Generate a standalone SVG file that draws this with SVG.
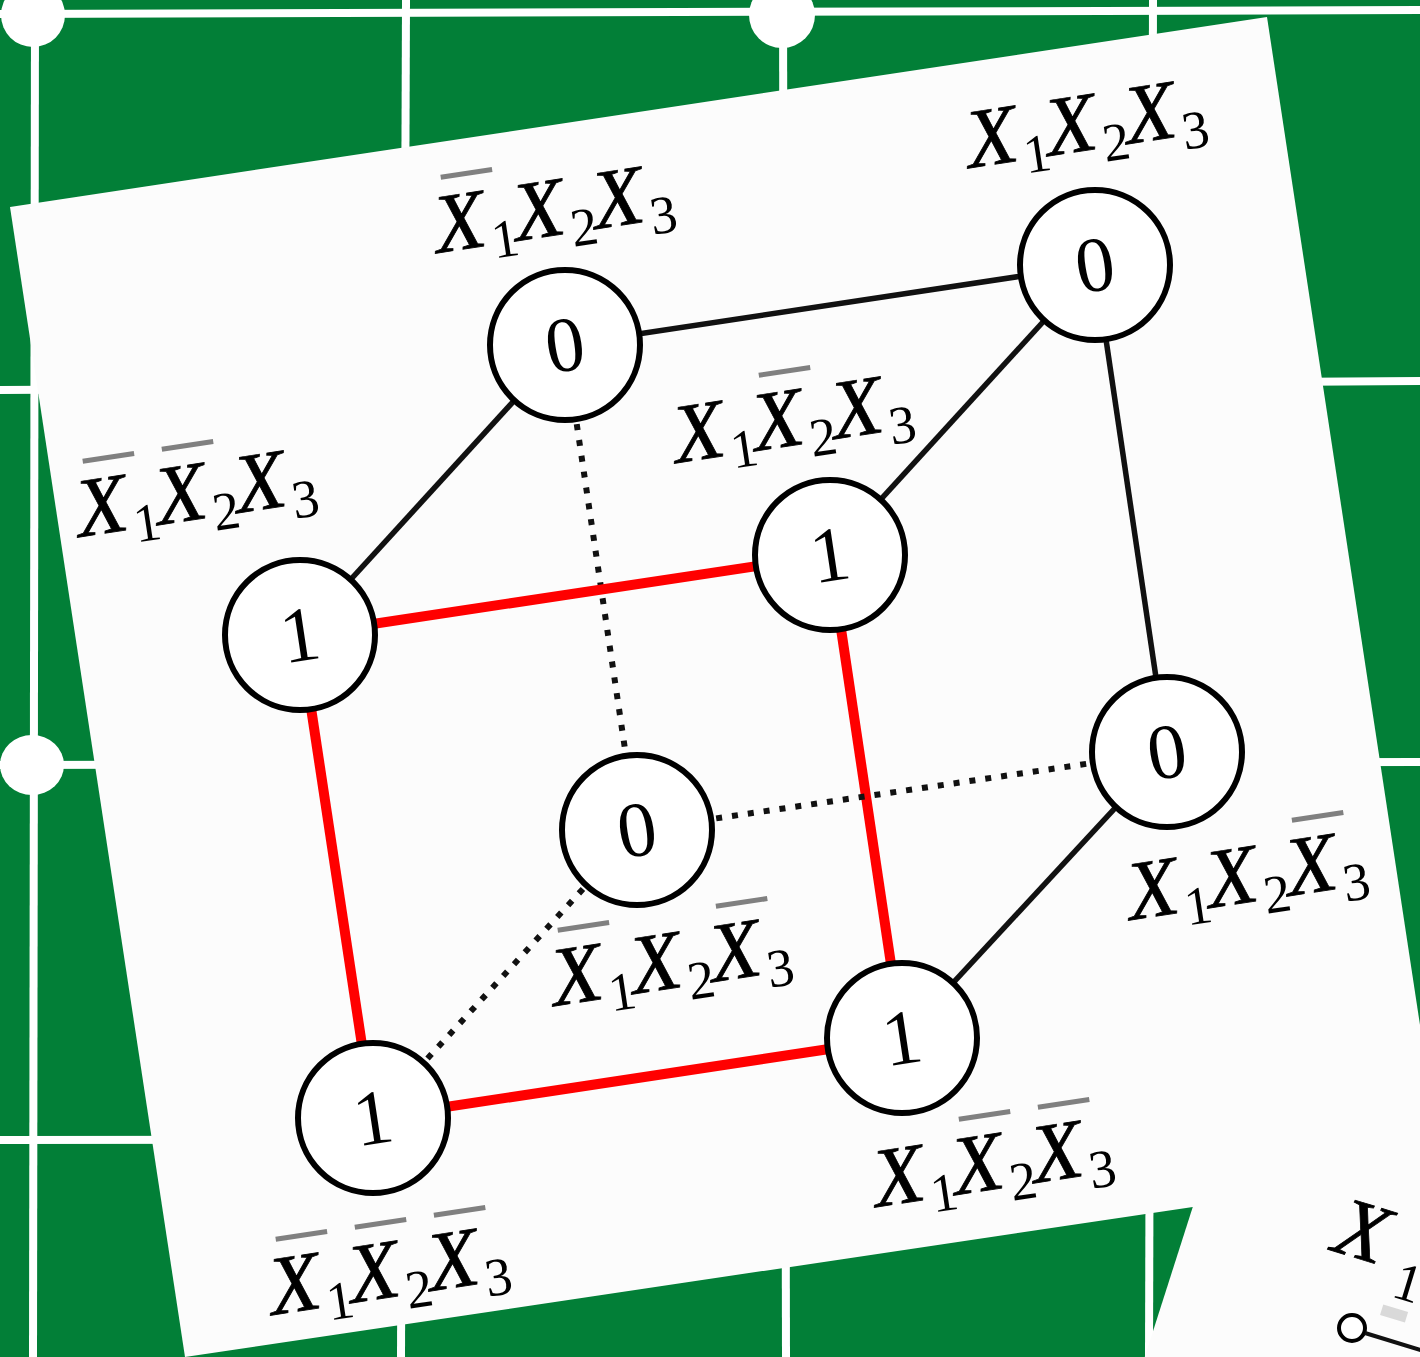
<svg xmlns="http://www.w3.org/2000/svg" width="1420" height="1357" viewBox="0 0 1420 1357">
<defs>
<style>
.grid{stroke:#ffffff;stroke-width:8;fill:none}
.dot{fill:#ffffff}
.paper{fill:#fcfcfc}
.edge{stroke:#111111;stroke-width:5.5;fill:none;stroke-linecap:butt}
.dotted{stroke:#111111;stroke-width:6;fill:none;stroke-dasharray:6 10}
.red{stroke:#ff0000;stroke-width:10;fill:none}
.node{fill:#ffffff;stroke:#000000;stroke-width:6}
.num{font-family:"Liberation Serif",serif;font-size:78px;fill:#000000;text-anchor:middle}
.X{font-family:"Liberation Serif",serif;font-style:italic;font-size:84px;fill:#000000;stroke:#000000;stroke-width:0.8}
.sub{font-family:"Liberation Serif",serif;font-size:54px;fill:#000000}
.bar{fill:#808080}
</style>
</defs>
<rect x="0" y="0" width="1420" height="1357" fill="#027f37"/>
<g id="grid">
<line class="grid" x1="0" y1="14" x2="1420" y2="10"/>
<line class="grid" x1="0" y1="390" x2="1420" y2="381"/>
<line class="grid" x1="0" y1="765" x2="1420" y2="762"/>
<line class="grid" x1="0" y1="1140" x2="1420" y2="1138"/>
<line class="grid" x1="35" y1="0" x2="33" y2="1357"/>
<line class="grid" x1="406" y1="0" x2="401" y2="1357"/>
<line class="grid" x1="783" y1="0" x2="786" y2="1357"/>
<line class="grid" x1="1153" y1="0" x2="1149" y2="1357"/>
<circle class="dot" cx="33" cy="15" r="32"/>
<circle class="dot" cx="782" cy="15" r="33"/>
<ellipse class="dot" cx="32" cy="765" rx="32" ry="30"/>
</g>
<g id="paper2">
<polygon class="paper" points="1227,1100 1440,1100 1440,1400 1131,1400"/>
<g transform="translate(1330,1250) rotate(17)">
<text class="X" x="0" y="0">X</text>
</g>
<g transform="translate(1390,1296) rotate(17)">
<text class="sub" x="0" y="0">1</text>
<rect x="-4" y="10" width="26" height="11" fill="#d9d9d9"/>
</g>
<circle cx="1352" cy="1328" r="13" fill="#ffffff" stroke="#000000" stroke-width="4"/>
<line x1="1365" y1="1333" x2="1440" y2="1356" stroke="#111111" stroke-width="4"/>
</g>
<polygon id="paper" class="paper" points="10,207 1267,17 1442,1170 185,1357"/>
<g id="connectors">
<line class="edge" x1="565" y1="345" x2="1095" y2="265"/>
<line class="edge" x1="565" y1="345" x2="300" y2="635"/>
<line class="edge" x1="1095" y1="265" x2="830" y2="555"/>
<line class="edge" x1="1095" y1="265" x2="1167" y2="752"/>
<line class="edge" x1="1167" y1="752" x2="902" y2="1038"/>
<line class="dotted" x1="565" y1="345" x2="637" y2="830"/>
<line class="red" x1="300" y1="635" x2="830" y2="555"/>
<line class="red" x1="300" y1="635" x2="373" y2="1118"/>
<line class="red" x1="830" y1="555" x2="902" y2="1038"/>
<line class="red" x1="373" y1="1118" x2="902" y2="1038"/>
<line class="dotted" x1="637" y1="830" x2="1167" y2="752"/>
<line class="dotted" x1="637" y1="830" x2="373" y2="1118"/>
</g>
<g id="n1">
<circle class="node" cx="565" cy="345" r="75"/>
<text class="num" transform="translate(565,345) rotate(-8.6)" x="0" y="26">0</text>
<g transform="translate(438,253) rotate(-8.6)">
<rect class="bar" x="14" y="-77" width="52" height="5"/>
<text class="X" x="0" y="0">X</text><text class="sub" x="55" y="14">1</text>
<text class="X" x="80" y="0">X</text><text class="sub" x="135" y="14">2</text>
<text class="X" x="160" y="0">X</text><text class="sub" x="215" y="14">3</text>
</g>
</g>
<g id="n2">
<circle class="node" cx="1095" cy="265" r="75"/>
<text class="num" transform="translate(1095,265) rotate(-8.6)" x="0" y="26">0</text>
<g transform="translate(970,168) rotate(-8.6)">
<text class="X" x="0" y="0">X</text><text class="sub" x="55" y="14">1</text>
<text class="X" x="80" y="0">X</text><text class="sub" x="135" y="14">2</text>
<text class="X" x="160" y="0">X</text><text class="sub" x="215" y="14">3</text>
</g>
</g>
<g id="n3">
<circle class="node" cx="300" cy="635" r="75"/>
<text class="num" transform="translate(300,635) rotate(-8.6)" x="0" y="26">1</text>
<g transform="translate(80,537) rotate(-8.6)">
<rect class="bar" x="14" y="-77" width="52" height="5"/>
<rect class="bar" x="94" y="-77" width="52" height="5"/>
<text class="X" x="0" y="0">X</text><text class="sub" x="55" y="14">1</text>
<text class="X" x="80" y="0">X</text><text class="sub" x="135" y="14">2</text>
<text class="X" x="160" y="0">X</text><text class="sub" x="215" y="14">3</text>
</g>
</g>
<g id="n4">
<circle class="node" cx="830" cy="555" r="75"/>
<text class="num" transform="translate(830,555) rotate(-8.6)" x="0" y="26">1</text>
<g transform="translate(677,463) rotate(-8.6)">
<rect class="bar" x="94" y="-77" width="52" height="5"/>
<text class="X" x="0" y="0">X</text><text class="sub" x="55" y="14">1</text>
<text class="X" x="80" y="0">X</text><text class="sub" x="135" y="14">2</text>
<text class="X" x="160" y="0">X</text><text class="sub" x="215" y="14">3</text>
</g>
</g>
<g id="n5">
<circle class="node" cx="637" cy="830" r="75"/>
<text class="num" transform="translate(637,830) rotate(-8.6)" x="0" y="26">0</text>
<g transform="translate(555,1006) rotate(-8.6)">
<rect class="bar" x="14" y="-77" width="52" height="5"/>
<rect class="bar" x="174" y="-77" width="52" height="5"/>
<text class="X" x="0" y="0">X</text><text class="sub" x="55" y="14">1</text>
<text class="X" x="80" y="0">X</text><text class="sub" x="135" y="14">2</text>
<text class="X" x="160" y="0">X</text><text class="sub" x="215" y="14">3</text>
</g>
</g>
<g id="n6">
<circle class="node" cx="1167" cy="752" r="75"/>
<text class="num" transform="translate(1167,752) rotate(-8.6)" x="0" y="26">0</text>
<g transform="translate(1131,920) rotate(-8.6)">
<rect class="bar" x="174" y="-77" width="52" height="5"/>
<text class="X" x="0" y="0">X</text><text class="sub" x="55" y="14">1</text>
<text class="X" x="80" y="0">X</text><text class="sub" x="135" y="14">2</text>
<text class="X" x="160" y="0">X</text><text class="sub" x="215" y="14">3</text>
</g>
</g>
<g id="n7">
<circle class="node" cx="373" cy="1118" r="75"/>
<text class="num" transform="translate(373,1118) rotate(-8.6)" x="0" y="26">1</text>
<g transform="translate(273,1315) rotate(-8.6)">
<rect class="bar" x="14" y="-77" width="52" height="5"/>
<rect class="bar" x="94" y="-77" width="52" height="5"/>
<rect class="bar" x="174" y="-77" width="52" height="5"/>
<text class="X" x="0" y="0">X</text><text class="sub" x="55" y="14">1</text>
<text class="X" x="80" y="0">X</text><text class="sub" x="135" y="14">2</text>
<text class="X" x="160" y="0">X</text><text class="sub" x="215" y="14">3</text>
</g>
</g>
<g id="n8">
<circle class="node" cx="902" cy="1038" r="75"/>
<text class="num" transform="translate(902,1038) rotate(-8.6)" x="0" y="26">1</text>
<g transform="translate(877,1207) rotate(-8.6)">
<rect class="bar" x="94" y="-77" width="52" height="5"/>
<rect class="bar" x="174" y="-77" width="52" height="5"/>
<text class="X" x="0" y="0">X</text><text class="sub" x="55" y="14">1</text>
<text class="X" x="80" y="0">X</text><text class="sub" x="135" y="14">2</text>
<text class="X" x="160" y="0">X</text><text class="sub" x="215" y="14">3</text>
</g>
</g>
</svg>
